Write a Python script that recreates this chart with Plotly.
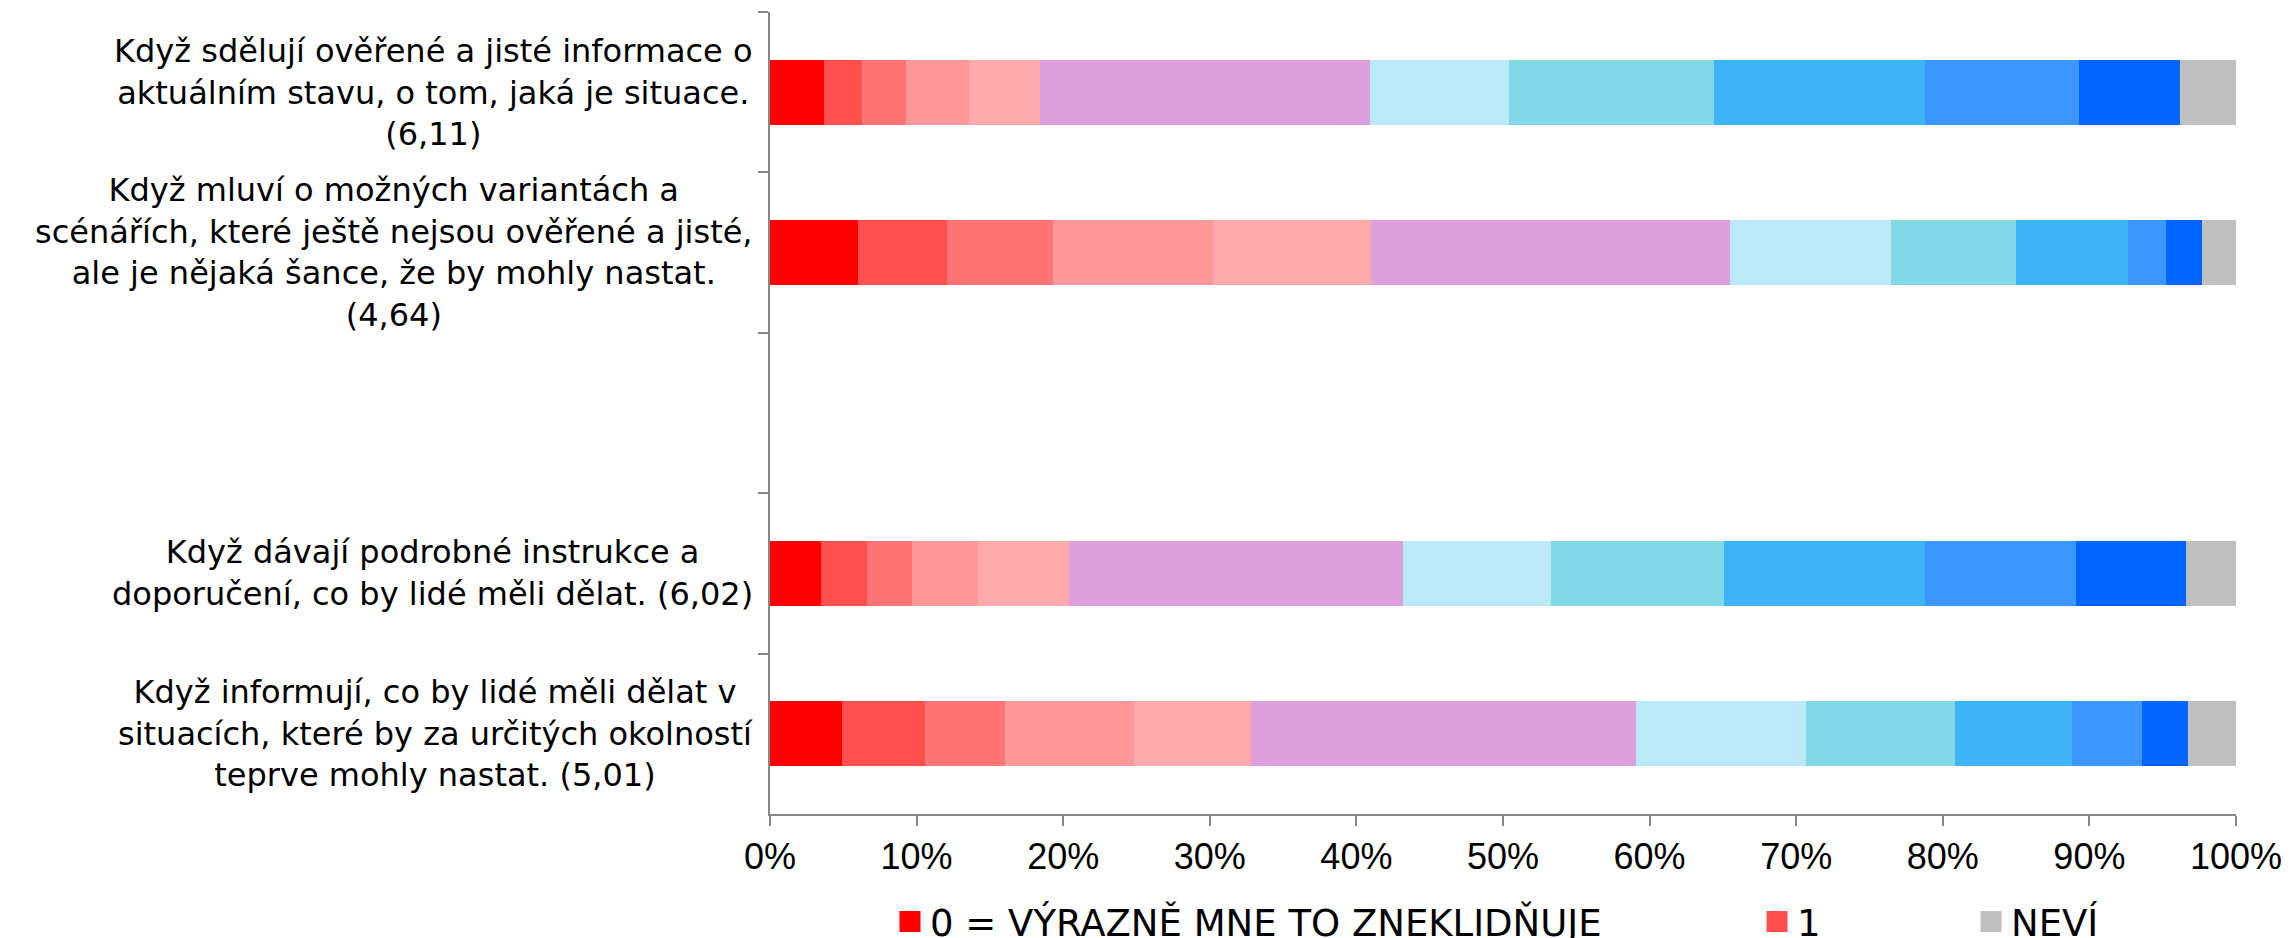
import plotly.graph_objects as go

# ---------------- data ----------------
categories = [
    "Když sdělují ověřené a jisté informace o<br>aktuálním stavu, o tom, jaká je situace.<br>(6,11)",
    "Když mluví o možných variantách a<br>scénářích, které ještě nejsou ověřené a jisté,<br>ale je nějaká šance, že by mohly nastat.<br>(4,64)",
    " ",
    "Když dávají podrobné instrukce a<br>doporučení, co by lidé měli dělat. (6,02)",
    "Když informují, co by lidé měli dělat v<br>situacích, které by za určitých okolností<br>teprve mohly nastat. (5,01)",
]
bar_categories = [categories[0], categories[1], categories[3], categories[4]]

series_names = [
    "0 = VÝRAZNĚ MNE TO ZNEKLIDŇUJE", "1", "2", "3", "4", "5", "6", "7", "8", "9",
    "10 = VÝRAZNĚ MNE TO UKLIDŇUJE", "NEVÍ",
]
# percent values per series, for the 4 bars (top to bottom)
s0 = [3.7, 6.0, 3.5, 4.9]
s1 = [2.6, 6.1, 3.1, 5.7]
s2 = [3.0, 7.2, 3.1, 5.4]
s3 = [4.3, 10.9, 4.5, 8.8]
s4 = [4.8, 10.8, 6.2, 8.0]
s5 = [22.5, 24.5, 22.8, 26.3]
s6 = [9.5, 11.0, 10.1, 11.6]
s7 = [14.0, 8.5, 11.8, 10.1]
s8 = [14.4, 7.6, 13.7, 8.0]
s9 = [10.5, 2.6, 10.3, 4.8]
s10 = [6.9, 2.5, 7.5, 3.1]
s_nevi = [3.8, 2.3, 3.4, 3.3]
series_values = [s0, s1, s2, s3, s4, s5, s6, s7, s8, s9, s10, s_nevi]

colors = [
    "#FF0000", "#FF5050", "#FF7575", "#FF9999", "#FFAAAA", "#DDA0DD",
    "#BBE9F8", "#82D8E5", "#3EB3F5", "#3B96FF", "#0066FF", "#C0C0C0",
]
x_ticks = [0, 10, 20, 30, 40, 50, 60, 70, 80, 90, 100]
x_tick_labels = ["0%", "10%", "20%", "30%", "40%", "50%", "60%", "70%", "80%", "90%", "100%"]

# legend placement: only 0, 1 and NEVÍ entries are visible in the original
legend_for = {0: "legend", 1: "legend2", 11: "legend3"}

# ---------------- figure ----------------
fig = go.Figure()
for i, (name, vals, col) in enumerate(zip(series_names, series_values, colors)):
    fig.add_trace(go.Bar(
        name=name, x=vals, y=bar_categories, orientation="h",
        marker=dict(color=col, line=dict(width=0)),
        showlegend=False, legendgroup=name,
    ))
# legend keys (larger square swatches than the fixed bar legend symbol)
for i, leg in legend_for.items():
    fig.add_trace(go.Scatter(
        name=series_names[i], x=[None], y=[None], mode="markers",
        marker=dict(symbol="square", size=16, color=colors[i],
                    line=dict(color=colors[i], width=5)),
        legend=leg, legendgroup=series_names[i], hoverinfo="skip",
    ))

W, H = 2291, 938
ml, mr, mt, mb = 770, 55, 12, 124
pw, ph = W - ml - mr, H - mt - mb

axis_col = "#878787"
tick_font = dict(family="Liberation Sans, Arial, sans-serif", size=36, color="#000000")
leg_font = dict(family="DejaVu Sans, sans-serif", size=37, color="#000000")


def lx(px):
    return (px - ml) / pw


leg_y = -(922 - (H - mb)) / ph
common_leg = dict(orientation="h", font=leg_font, yanchor="middle", y=leg_y,
                  xanchor="left", bgcolor="rgba(0,0,0,0)", borderwidth=0,
                  itemsizing="trace")

fig.update_layout(
    width=W, height=H,
    margin=dict(l=ml, r=mr, t=mt, b=mb, autoexpand=False),
    barmode="stack",
    bargap=0.595,
    plot_bgcolor="white",
    paper_bgcolor="white",
    legend=dict(x=lx(890), **common_leg),
    legend2=dict(x=lx(1757), **common_leg),
    legend3=dict(x=lx(1971), **common_leg),
    xaxis=dict(
        range=[0, 100], tickmode="array", tickvals=x_ticks, ticktext=x_tick_labels,
        showgrid=False, zeroline=False,
        showline=True, linecolor=axis_col, linewidth=1.5,
        ticks="outside", ticklen=10, tickcolor=axis_col, tickwidth=1.5,
        tickfont=tick_font,
    ),
    yaxis=dict(
        type="category", categoryorder="array", categoryarray=categories,
        range=[len(categories) - 0.5, -0.5],
        showgrid=False, zeroline=False,
        showline=True, linecolor=axis_col, linewidth=1.5,
        ticks="outside", ticklen=10, tickcolor=axis_col, tickwidth=1.5,
        tickson="boundaries", showticklabels=False,
    ),
)

for cat in bar_categories:
    fig.add_annotation(
        xref="paper", yref="y", x=0, y=cat, text=cat,
        xanchor="right", yanchor="middle", align="center", xshift=-15,
        showarrow=False,
        font=dict(family="DejaVu Sans, sans-serif", size=32, color="#000000"),
    )

fig.write_html(
    "out.html",
    config={"displayModeBar": False},
    post_script="document.body.style.margin='0';document.body.style.overflow='hidden';",
)
